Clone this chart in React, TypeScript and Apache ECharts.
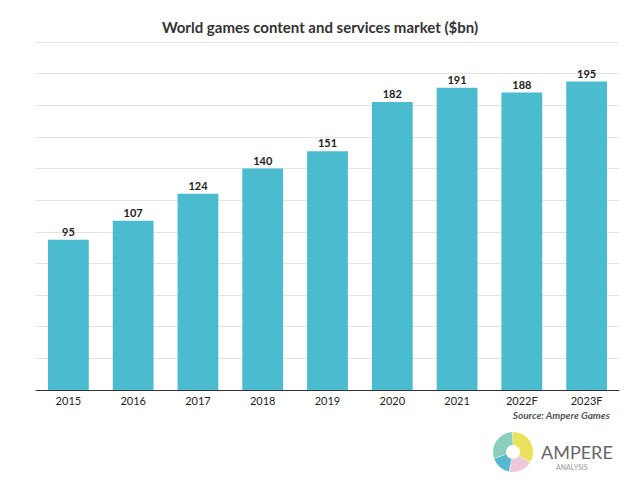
import React, { useEffect, useRef } from "react";
import * as echarts from "echarts";

const years = ["2015", "2016", "2017", "2018", "2019", "2020", "2021", "2022F", "2023F"];
const market = [95, 107, 124, 140, 151, 182, 191, 188, 195];

const deg = (d: number) => (d * Math.PI) / 180;
const logoParts = [
  { from: -90, to: 30, color: "#e9e25a" },
  { from: 32, to: 100, color: "#ecc8d8" },
  { from: 102, to: 160, color: "#56b9d0" },
  { from: 162, to: 268, color: "#8ccdbe" },
];

export default function App() {
  const chartRef = useRef(null);

  useEffect(() => {
    document.body.style.margin = "0";
    if (!chartRef.current) return;
    const chart = echarts.init(chartRef.current, null, { renderer: "svg" });

    const option = {
      animation: false,
      title: {
        text: "World games content and services market ($bn)",
        left: "center",
        top: 14,
        textStyle: { fontFamily: "Lato", fontSize: 15, fontWeight: "bold", color: "#333" },
      },
      grid: { left: 36, right: 21, top: 42, bottom: 90 },
      xAxis: {
        type: "category",
        data: years,
        axisTick: { show: false },
        axisLine: { lineStyle: { color: "#333" } },
        axisLabel: { color: "#222", fontFamily: "Lato", fontSize: 11, margin: 5 },
      },
      yAxis: {
        type: "value",
        min: 0,
        max: 220,
        interval: 20,
        axisLabel: { show: false },
        splitLine: { lineStyle: { color: "#e3e3e3" } },
      },
      series: [
        {
          type: "bar",
          data: market,
          barWidth: "63%",
          itemStyle: { color: "#4bbccf" },
          label: {
            show: true,
            position: "top",
            distance: 3,
            color: "#222",
            fontFamily: "Lato",
            fontWeight: "bold",
            fontSize: 11,
          },
        },
      ],
      graphic: [
        {
          type: "text",
          right: 30,
          top: 410,
          style: {
            text: "Source: Ampere Games",
            fill: "#555",
            font: "italic bold 10px Lato",
          },
        },
        ...logoParts.map((p) => ({
          type: "sector",
          shape: { cx: 513, cy: 452, r: 20, r0: 7, startAngle: deg(p.from), endAngle: deg(p.to), clockwise: true },
          style: { fill: p.color },
        })),
        {
          type: "text",
          x: 541,
          y: 443,
          style: { text: "AMPERE", fill: "#666", font: "18px Lato" },
        },
        {
          type: "text",
          x: 556,
          y: 463,
          style: { text: "ANALYSIS", fill: "#999", font: "7px Lato" },
        },
      ],
    };

    chart.setOption(option);
    return () => chart.dispose();
  }, []);

  return <div ref={chartRef} style={{ width: 640, height: 480 }} />;
}
